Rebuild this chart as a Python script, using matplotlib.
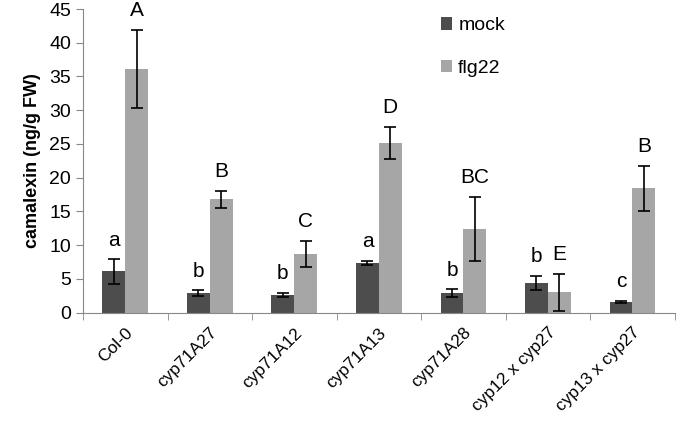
import numpy as np
import matplotlib
matplotlib.use("Agg")
import matplotlib.pyplot as plt

genotypes = ["Col-0", "cyp71A27", "cyp71A12", "cyp71A13", "cyp71A28",
             "cyp12 x cyp27", "cyp13 x cyp27"]
mock = [6.1, 2.9, 2.6, 7.4, 2.85, 4.4, 1.55]
mock_err = [1.8, 0.4, 0.3, 0.3, 0.6, 1.0, 0.15]
flg22 = [36.1, 16.8, 8.7, 25.1, 12.4, 3.0, 18.4]
flg22_err = [5.8, 1.3, 1.9, 2.4, 4.8, 2.7, 3.3]
mock_letters = ["a", "b", "b", "a", "b", "b", "c"]
flg22_letters = ["A", "B", "C", "D", "BC", "E", "B"]

plt.rcParams["font.family"] = ["Liberation Sans", "DejaVu Sans"]
fig = plt.figure(figsize=(6.77, 4.30), dpi=100)
ax = fig.add_axes([0.1226, 0.273, 0.874, 0.706])

x = np.arange(len(genotypes))
w = 0.27
ax.bar(x - w / 2, mock, w, color="#4d4d4d", label="mock")
ax.bar(x + w / 2, flg22, w, color="#a6a6a6", label="flg22")
ax.errorbar(x - w / 2, mock, yerr=mock_err, fmt="none", ecolor="black",
            elinewidth=1.2, capsize=4, capthick=1.2)
ax.errorbar(x + w / 2, flg22, yerr=flg22_err, fmt="none", ecolor="black",
            elinewidth=1.2, capsize=4, capthick=1.2)

for i in range(len(genotypes)):
    ax.annotate(mock_letters[i], (x[i] - w / 2, mock[i] + mock_err[i]),
                xytext=(0, 7), textcoords="offset points",
                ha="center", va="bottom", fontsize=15)
    ax.annotate(flg22_letters[i], (x[i] + w / 2, flg22[i] + flg22_err[i]),
                xytext=(0, 7), textcoords="offset points",
                ha="center", va="bottom", fontsize=15)

ax.set_xlim(-0.5, len(genotypes) - 0.5)
ax.set_ylim(0, 45)
ax.set_yticks(range(0, 46, 5))
ax.set_xticks(x)
ax.set_xticklabels(genotypes, rotation=45, ha="right", rotation_mode="anchor",
                   fontsize=12.5)
ax.tick_params(axis="x", length=0, pad=9)
ax.set_xticks(np.arange(-0.5, len(genotypes)), minor=True)
ax.tick_params(axis="x", which="minor", length=5, color="#888888")
ax.tick_params(axis="y", labelsize=14, length=5, color="#888888")
for s in ["top", "right"]:
    ax.spines[s].set_visible(False)
for s in ["left", "bottom"]:
    ax.spines[s].set_color("#888888")

ax.set_ylabel("camalexin (ng/g FW)", fontsize=13, fontweight="bold", labelpad=6)
ax.legend(loc="upper left", bbox_to_anchor=(0.575, 1.03), frameon=False,
          fontsize=14, handlelength=0.6, handleheight=0.6, labelspacing=1.3,
          handletextpad=0.3)

fig.savefig("out.png", dpi=100)
